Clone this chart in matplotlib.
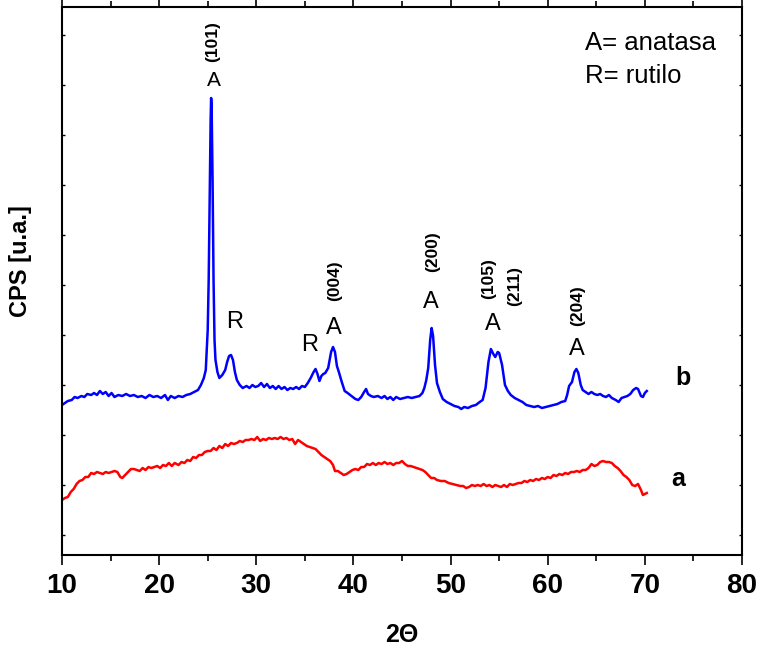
import matplotlib
matplotlib.use("Agg")
import matplotlib.pyplot as plt
import numpy as np
from matplotlib.ticker import MultipleLocator

# sample b (blue): (2theta, CPS)
b_points = [
    (10.0, 130), (10.3, 132), (10.6, 134), (11.0, 135), (11.3, 138), (11.6, 137),
    (12.0, 139), (12.3, 138), (12.6, 141), (13.0, 140), (13.3, 142), (13.6, 140),
    (13.9, 144), (14.2, 141), (14.5, 143), (14.8, 139), (15.1, 142), (15.4, 138),
    (15.8, 140), (16.2, 139), (16.6, 141), (17.0, 139), (17.4, 140), (17.8, 138),
    (18.2, 139), (18.6, 137), (19.0, 140), (19.4, 138), (19.8, 139), (20.2, 137),
    (20.6, 140), (20.9, 135), (21.2, 139), (21.6, 137), (22.0, 139), (22.4, 138),
    (22.8, 140), (23.2, 141), (23.6, 143), (24.0, 145), (24.3, 150), (24.6, 157),
    (24.8, 165), (25.0, 205), (25.1, 255), (25.2, 335), (25.3, 415), (25.35, 437),
    (25.4, 430), (25.5, 355), (25.6, 255), (25.7, 195), (25.8, 175), (26.0, 163),
    (26.2, 157), (26.5, 160), (26.8, 165), (27.0, 173), (27.2, 179), (27.4, 180),
    (27.6, 175), (27.8, 163), (28.0, 155), (28.3, 150), (28.6, 147), (29.0, 149),
    (29.3, 147), (29.6, 150), (29.9, 148), (30.2, 149), (30.5, 152), (30.8, 148),
    (31.1, 151), (31.4, 147), (31.7, 149), (32.0, 146), (32.3, 149), (32.6, 146),
    (32.9, 148), (33.2, 145), (33.5, 147), (33.8, 146), (34.1, 148), (34.4, 146),
    (34.7, 149), (35.0, 148), (35.3, 152), (35.6, 157), (35.9, 163), (36.1, 166),
    (36.3, 161), (36.5, 154), (36.7, 159), (36.9, 161), (37.1, 162), (37.4, 167),
    (37.7, 183), (37.9, 188), (38.1, 183), (38.3, 169), (38.5, 163), (38.8, 153),
    (39.1, 144), (39.4, 142), (39.8, 139), (40.2, 136), (40.5, 135), (40.8, 138),
    (41.1, 143), (41.3, 146), (41.5, 141), (41.8, 139), (42.1, 138), (42.5, 139),
    (42.9, 137), (43.2, 139), (43.5, 136), (43.8, 138), (44.1, 135), (44.4, 138),
    (44.8, 136), (45.2, 137), (45.6, 138), (46.0, 137), (46.4, 138), (46.8, 139),
    (47.1, 142), (47.3, 147), (47.5, 155), (47.7, 167), (47.9, 195), (48.05, 207),
    (48.2, 199), (48.4, 170), (48.6, 152), (48.9, 143), (49.2, 136), (49.6, 133),
    (50.0, 131), (50.4, 129), (50.8, 128), (51.1, 126), (51.4, 128), (51.8, 127),
    (52.2, 129), (52.6, 130), (53.0, 133), (53.3, 135), (53.6, 147), (53.9, 173),
    (54.15, 186), (54.4, 181), (54.6, 178), (54.85, 183), (55.0, 182), (55.3, 170),
    (55.6, 150), (55.9, 144), (56.2, 140), (56.6, 137), (57.0, 135), (57.4, 133),
    (57.8, 130), (58.2, 129), (58.6, 128), (59.0, 129), (59.4, 127), (59.8, 128),
    (60.2, 129), (60.6, 130), (61.0, 131), (61.4, 133), (61.8, 134), (62.0, 140),
    (62.2, 149), (62.5, 153), (62.75, 163), (62.95, 166), (63.15, 162), (63.4, 150),
    (63.6, 145), (63.9, 143), (64.2, 141), (64.5, 143), (64.8, 141), (65.1, 140),
    (65.4, 141), (65.7, 139), (66.0, 138), (66.3, 140), (66.6, 137), (67.0, 135),
    (67.3, 133), (67.6, 137), (67.9, 138), (68.2, 139), (68.5, 141), (68.8, 145),
    (69.1, 147), (69.3, 146), (69.6, 139), (69.8, 138), (70.0, 142), (70.2, 144),
]

# sample a (red)
a_points = [
    (10.0, 35), (10.3, 37), (10.6, 38), (10.9, 43), (11.2, 46), (11.5, 51),
    (11.8, 54), (12.1, 55), (12.4, 58), (12.7, 58), (13.0, 62), (13.3, 61),
    (13.6, 63), (13.9, 62), (14.2, 61), (14.5, 63), (14.8, 62), (15.1, 63),
    (15.4, 64), (15.7, 63), (16.0, 58), (16.2, 57), (16.5, 60), (16.8, 63),
    (17.1, 66), (17.4, 66), (17.7, 65), (18.0, 64), (18.3, 67), (18.6, 65),
    (18.9, 68), (19.2, 67), (19.5, 68), (19.8, 69), (20.1, 67), (20.4, 70),
    (20.7, 69), (21.0, 72), (21.3, 69), (21.6, 72), (22.0, 70), (22.3, 73),
    (22.6, 72), (22.9, 75), (23.2, 74), (23.5, 78), (23.8, 77), (24.1, 80),
    (24.4, 80), (24.7, 83), (25.0, 84), (25.3, 84), (25.6, 87), (25.9, 85),
    (26.2, 89), (26.5, 87), (26.8, 91), (27.1, 89), (27.4, 92), (27.7, 91),
    (28.0, 92), (28.3, 94), (28.6, 93), (28.9, 95), (29.2, 95), (29.5, 96),
    (29.8, 95), (30.1, 98), (30.4, 94), (30.7, 96), (31.0, 95), (31.3, 97),
    (31.6, 96), (31.9, 97), (32.2, 96), (32.5, 98), (32.8, 96), (33.1, 97),
    (33.4, 95), (33.7, 96), (34.0, 91), (34.3, 95), (34.6, 93), (34.9, 91),
    (35.2, 89), (35.5, 88), (35.8, 87), (36.1, 86), (36.4, 83), (36.7, 80),
    (37.0, 78), (37.3, 76), (37.6, 74), (37.9, 70), (38.1, 64), (38.4, 64),
    (38.7, 62), (39.0, 60), (39.3, 61), (39.6, 63), (39.9, 65), (40.2, 66),
    (40.5, 65), (40.8, 68), (41.1, 68), (41.4, 71), (41.7, 70), (42.0, 72),
    (42.3, 70), (42.6, 72), (42.9, 71), (43.2, 73), (43.5, 71), (43.8, 72),
    (44.1, 70), (44.4, 72), (44.7, 72), (45.0, 74), (45.3, 71), (45.6, 69),
    (45.9, 69), (46.2, 68), (46.5, 67), (46.8, 66), (47.1, 65), (47.4, 63),
    (47.7, 60), (48.0, 57), (48.3, 57), (48.6, 55), (49.0, 54), (49.4, 54),
    (49.8, 52), (50.2, 51), (50.6, 50), (51.0, 49), (51.3, 49), (51.6, 47),
    (51.9, 48), (52.2, 50), (52.5, 49), (52.8, 50), (53.1, 49), (53.4, 51),
    (53.7, 49), (54.0, 50), (54.3, 48), (54.6, 50), (54.9, 49), (55.2, 48),
    (55.5, 50), (55.8, 48), (56.1, 51), (56.4, 50), (56.7, 51), (57.0, 52),
    (57.3, 52), (57.6, 54), (57.9, 53), (58.2, 55), (58.5, 54), (58.8, 56),
    (59.1, 55), (59.4, 57), (59.7, 56), (60.0, 58), (60.3, 57), (60.6, 60),
    (60.9, 59), (61.2, 61), (61.5, 60), (61.8, 62), (62.1, 61), (62.4, 63),
    (62.7, 63), (63.0, 64), (63.3, 63), (63.6, 65), (63.9, 65), (64.2, 67),
    (64.5, 71), (64.8, 69), (65.1, 70), (65.4, 73), (65.7, 74), (66.0, 73),
    (66.3, 73), (66.6, 72), (66.9, 69), (67.2, 67), (67.5, 64), (67.8, 60),
    (68.1, 58), (68.4, 55), (68.7, 50), (69.0, 49), (69.3, 51), (69.6, 45),
    (69.8, 40), (70.0, 41), (70.2, 42),
]

two_theta_b, cps_b = np.array(b_points).T
two_theta_a, cps_a = np.array(a_points).T

# peak labels: (text, 2theta, cps, fontsize)
phase_labels = [
    ("A", 25.6, 455, 15), ("R", 27.8, 213, 17), ("R", 35.5, 190, 17),
    ("A", 38.0, 207, 17), ("A", 48.0, 233, 17), ("A", 54.3, 211, 17),
    ("A", 63.0, 186, 17),
]
hkl_labels = [
    ("(101)", 25.55, 493), ("(004)", 38.1, 254), ("(200)", 48.15, 283),
    ("(105)", 53.9, 256), ("(211)", 56.6, 249), ("(204)", 63.1, 229),
]

narrow = ["Liberation Sans Narrow", "Liberation Sans", "DejaVu Sans"]
plt.rcParams["font.family"] = ["Liberation Sans", "DejaVu Sans"]

fig = plt.figure(figsize=(7.63, 6.47), dpi=100)
ax = fig.add_axes([62 / 763, 92 / 647, 680 / 763, 548 / 647])

ax.plot(two_theta_b, cps_b, color="#0000ff", lw=1.8)
ax.plot(two_theta_a, cps_a, color="#ff0000", lw=1.8)

for txt, x, y, fs in phase_labels:
    ax.text(x, y, txt, ha="center", va="center", fontsize=fs)
for txt, x, y in hkl_labels:
    ax.text(x, y, txt, ha="center", va="center", fontsize=12.5,
            fontweight="bold", rotation=90, family=narrow)

ax.text(73.9, 157, "b", ha="center", va="center", fontsize=18, fontweight="bold")
ax.text(73.4, 56, "a", ha="center", va="center", fontsize=18, fontweight="bold")

ax.text(63.8, 485, "A= anatasa", ha="left", va="baseline", fontsize=18.5)
ax.text(63.8, 452, "R= rutilo", ha="left", va="baseline", fontsize=18.5)

ax.set_xlim(10, 80)
ax.set_ylim(-20, 528)
ax.xaxis.set_major_locator(MultipleLocator(10))
ax.xaxis.set_minor_locator(MultipleLocator(5))
ax.yaxis.set_major_locator(MultipleLocator(50))
ax.tick_params(axis="x", which="major", direction="out", length=7, width=1.2,
               pad=6, labelsize=20)
ax.tick_params(axis="x", which="minor", direction="out", length=4, width=1.2)
ax.tick_params(axis="x", which="both", top=True, labeltop=False)
ax.tick_params(axis="y", which="major", direction="in", length=2, width=1,
               left=True, right=True, labelleft=False)
for lab in ax.get_xticklabels():
    lab.set_fontfamily(narrow)
    lab.set_fontweight("bold")
for sp in ax.spines.values():
    sp.set_linewidth(1.5)

ax.set_xlabel("2\u0398", fontsize=18, fontweight="bold", labelpad=17)
ax.set_ylabel("CPS [u.a.]", fontsize=17, fontweight="bold")
ax.yaxis.set_label_coords(-0.044, 0.536)

fig.savefig("out.png", dpi=100)
